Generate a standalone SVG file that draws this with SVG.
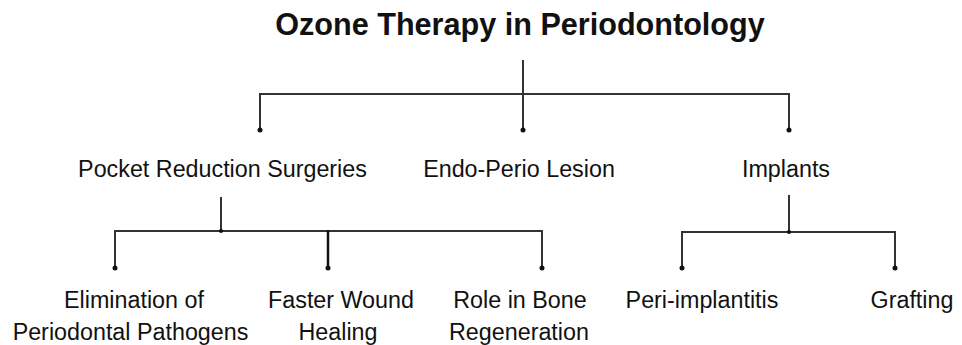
<svg xmlns="http://www.w3.org/2000/svg" width="962" height="345" viewBox="0 0 962 345">
<style>
.t{font-family:"Liberation Sans",Arial,sans-serif;fill:#111;text-anchor:middle}
.title{font-size:30.6px;font-weight:bold}
.l1{font-size:23.3px}
.l2{font-size:23.3px}
.c line{stroke:#333;stroke-width:2;fill:none}
.c circle{fill:#111}
</style>
<rect width="962" height="345" fill="#fff"/>
<g id="title"><text class="t title" x="520" y="35">Ozone Therapy in Periodontology</text></g>
<g id="connectors" class="c">
<line x1="523" y1="60" x2="523" y2="130"/>
<line x1="260" y1="94" x2="789" y2="94"/>
<line x1="260" y1="93" x2="260" y2="130"/>
<line x1="789" y1="93" x2="789" y2="130"/>
<circle cx="260" cy="130" r="2.5"/><circle cx="523" cy="130" r="2.5"/><circle cx="789" cy="130" r="2.5"/>
<line x1="221" y1="197" x2="221" y2="231"/>
<line x1="115" y1="231" x2="542" y2="231"/>
<line x1="115" y1="230" x2="115" y2="268"/>
<line x1="328" y1="230" x2="328" y2="268" style="stroke-width:2.5;stroke:#111"/>
<line x1="542" y1="230" x2="542" y2="268"/>
<circle cx="221" cy="231" r="2"/>
<circle cx="115" cy="268" r="2.5"/><circle cx="328" cy="268" r="2.5"/><circle cx="542" cy="268" r="2.5"/>
<line x1="789" y1="195" x2="789" y2="232"/>
<line x1="682" y1="232" x2="895" y2="232"/>
<line x1="682" y1="231" x2="682" y2="268"/>
<line x1="895" y1="231" x2="895" y2="268"/>
<circle cx="789" cy="232" r="2"/>
<circle cx="682" cy="268" r="2.5"/><circle cx="895" cy="268" r="2.5"/>
</g>
<g id="n-pocket"><text class="t l1" x="222.5" y="177">Pocket Reduction Surgeries</text></g>
<g id="n-endo"><text class="t l1" x="519" y="177">Endo-Perio Lesion</text></g>
<g id="n-implants"><text class="t l1" x="786" y="177">Implants</text></g>
<g id="n-elim"><text class="t l2" x="134" y="308">Elimination of</text><text class="t l2" x="130.5" y="340">Periodontal Pathogens</text></g>
<g id="n-faster"><text class="t l2" x="341" y="308">Faster Wound</text><text class="t l2" x="338" y="340">Healing</text></g>
<g id="n-role"><text class="t l2" x="520" y="308">Role in Bone</text><text class="t l2" x="519" y="340">Regeneration</text></g>
<g id="n-peri"><text class="t l2" x="702" y="308">Peri-implantitis</text></g>
<g id="n-graft"><text class="t l2" x="912" y="308">Grafting</text></g>
</svg>
